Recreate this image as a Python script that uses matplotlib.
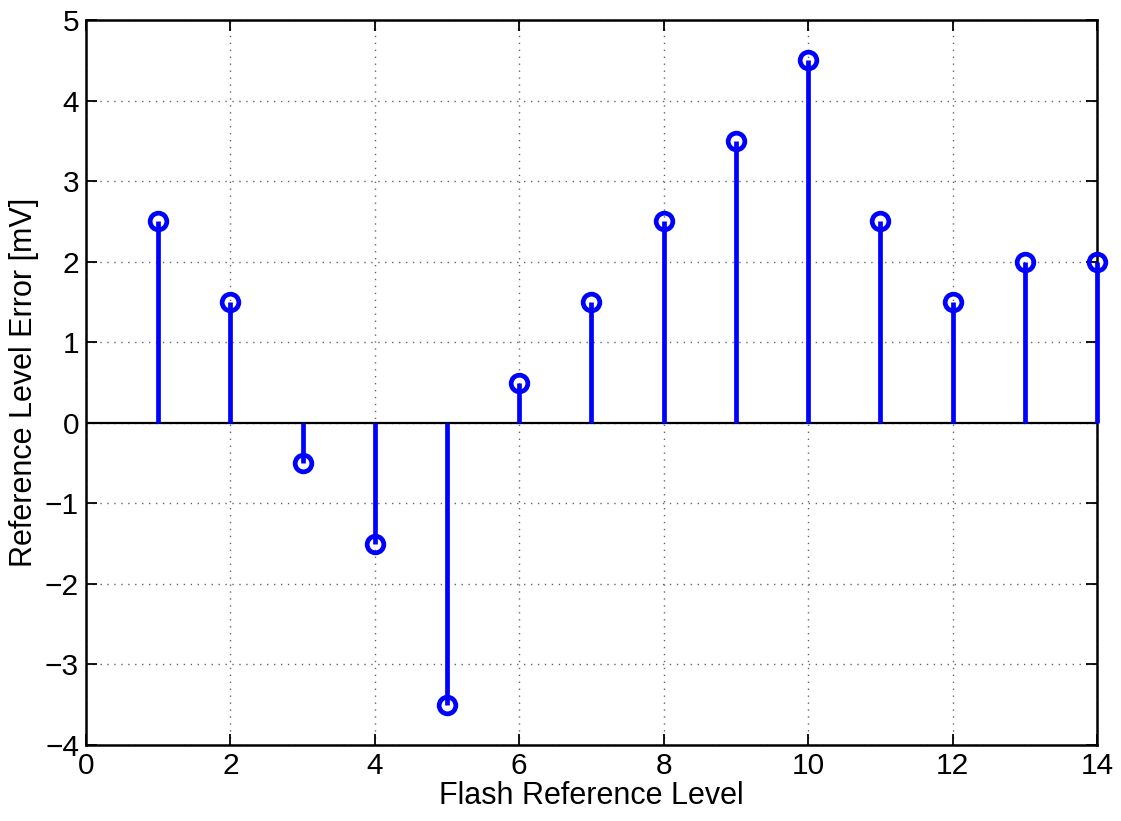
import matplotlib
matplotlib.use("Agg")
import matplotlib.pyplot as plt
import numpy as np

plt.rcParams['font.family'] = ['Liberation Sans', 'DejaVu Sans']

levels = [1, 2, 3, 4, 5, 6, 7, 8, 9, 10, 11, 12, 13, 14]
errors_mv = [2.5, 1.5, -0.5, -1.5, -3.5, 0.5, 1.5, 2.5, 3.5, 4.5, 2.5, 1.5, 2.0, 2.0]
x_ticks = [0, 2, 4, 6, 8, 10, 12, 14]
y_ticks = [-4, -3, -2, -1, 0, 1, 2, 3, 4, 5]

fig = plt.figure(figsize=(11.21, 8.21), dpi=100)
ax = fig.add_axes([0.0767, 0.0926, 0.9019, 0.883])

markerline, stemlines, baseline = ax.stem(levels, errors_mv, basefmt='k-')
plt.setp(stemlines, color='#0000ff', linewidth=3.4, clip_on=False, zorder=3)
plt.setp(markerline, color='#0000ff', marker='o', markersize=12,
         markerfacecolor='none', markeredgewidth=3.4, clip_on=False, zorder=4)
plt.setp(baseline, color='black', linewidth=1.6, zorder=2.8)
baseline.set_xdata([0, 14])

ax.set_xlim(0, 14)
ax.set_ylim(-4, 5)
ax.set_xticks(x_ticks)
ax.set_yticks(y_ticks)
ax.set_yticklabels([f"{v}".replace('-', '\u2212') for v in y_ticks])
ax.grid(True, linestyle=(0, (1, 4)), color='#666666', linewidth=1.0)
ax.set_axisbelow(True)
ax.tick_params(direction='in', length=8, width=1.3, labelsize=21.5,
               top=True, right=True, pad=5)
for s in ax.spines.values():
    s.set_linewidth(1.8)

ax.set_xlabel('Flash Reference Level', fontsize=22, labelpad=1)
ax.set_ylabel('Reference Level Error [mV]', fontsize=22, labelpad=4)

fig.savefig('out.png', dpi=100)
